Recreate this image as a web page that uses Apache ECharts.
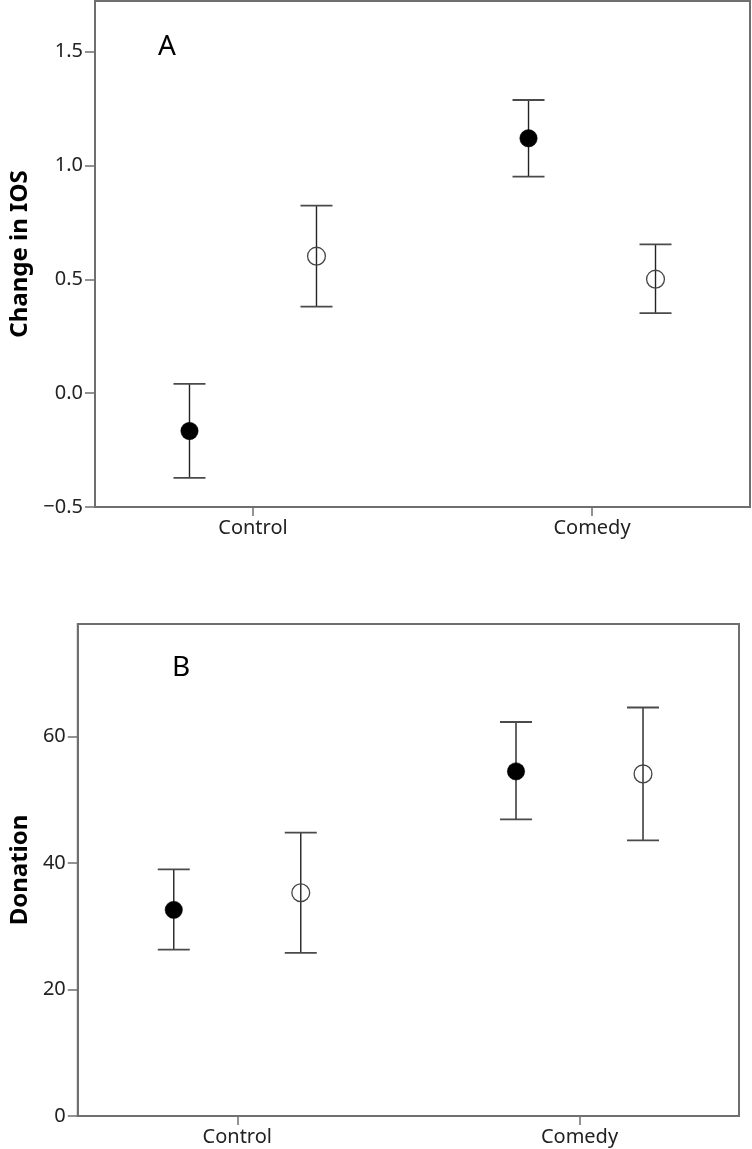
<!DOCTYPE html>
<html>
<head>
<meta charset="utf-8">
<script src="https://cdn.jsdelivr.net/npm/echarts@6/dist/echarts.min.js"></script>
<style>
html,body{margin:0;padding:0;background:#fff;}
#chart{width:752px;height:1149px;}
</style>
</head>
<body>
<div id="chart"></div>
<script>
// ---- data ----
const categories = ['Control', 'Comedy'];

// Panel A: Change in IOS
const iosFilledMean = [-0.166, 1.120];
const iosFilledLow  = [-0.372, 0.951];
const iosFilledHigh = [0.041, 1.288];
const iosOpenMean   = [0.602, 0.501];
const iosOpenLow    = [0.380, 0.352];
const iosOpenHigh   = [0.824, 0.654];
const iosTicks      = [-0.5, 0.0, 0.5, 1.0, 1.5];

// Panel B: Donation
const donFilledMean = [32.6, 54.5];
const donFilledLow  = [26.3, 46.9];
const donFilledHigh = [39.0, 62.3];
const donOpenMean   = [35.3, 54.1];
const donOpenLow    = [25.8, 43.6];
const donOpenHigh   = [44.8, 64.6];
const donTicks      = [0, 20, 40, 60];

// ---- chart ----
const FONT = '"Noto Sans", "DejaVu Sans", sans-serif';
const FRAME = '#6f6f6f';
const chart = echarts.init(document.getElementById('chart'), null, {renderer: 'canvas'});

function pack(mean, lo, hi) {
  return mean.map((m, i) => [i, m, lo[i], hi[i]]);
}

function errSeries(gridIdx, data, filled, offsetPx) {
  return {
    type: 'custom',
    xAxisIndex: gridIdx,
    yAxisIndex: gridIdx,
    data: data,
    encode: {x: 0, y: [1, 2, 3]},
    clip: false,
    renderItem: function (params, api) {
      const pm = api.coord([api.value(0), api.value(1)]);
      const cx = pm[0] + offsetPx;
      const yLo = api.coord([api.value(0), api.value(2)])[1];
      const yHi = api.coord([api.value(0), api.value(3)])[1];
      const cap = 16;
      const children = [
        {type: 'line', shape: {x1: cx, y1: yHi, x2: cx, y2: yLo},
         style: {stroke: '#222', lineWidth: 1.4}},
        {type: 'line', shape: {x1: cx - cap, y1: yHi, x2: cx + cap, y2: yHi},
         style: {stroke: '#4a4a4a', lineWidth: 1.8}},
        {type: 'line', shape: {x1: cx - cap, y1: yLo, x2: cx + cap, y2: yLo},
         style: {stroke: '#4a4a4a', lineWidth: 1.8}},
        filled
          ? {type: 'circle', shape: {cx: cx, cy: pm[1], r: 8.7},
             style: {fill: '#000', stroke: '#000', lineWidth: 0.5}}
          : {type: 'circle', shape: {cx: cx, cy: pm[1], r: 8.9},
             style: {fill: 'none', stroke: '#444', lineWidth: 1.3}}
      ];
      return {type: 'group', children: children};
    }
  };
}

function xAxis(gridIdx) {
  return {
    type: 'value', gridIndex: gridIdx,
    min: -0.466, max: 1.466,
    splitLine: {show: false},
    axisLine: {show: true, onZero: false, lineStyle: {color: FRAME, width: 2}},
    axisTick: {show: true, length: 9, customValues: [0, 1], lineStyle: {color: FRAME, width: 1.5}},
    axisLabel: {show: true, customValues: [0, 1], margin: 11,
      formatter: v => categories[Math.round(v)] || '',
      fontFamily: FONT, fontSize: 20, color: '#222'}
  };
}

function yAxis(gridIdx, name, min, max, ticks, fmt, gap) {
  return {
    type: 'value', gridIndex: gridIdx,
    min: min, max: max,
    name: name, nameLocation: 'middle', nameGap: gap,
    nameTextStyle: {fontFamily: FONT, fontSize: 24, fontWeight: 'bold', color: '#000'},
    splitLine: {show: false},
    axisLine: {show: true, onZero: false, lineStyle: {color: FRAME, width: 2}},
    axisTick: {show: true, length: 10, customValues: ticks, lineStyle: {color: FRAME, width: 1.5}},
    axisLabel: {show: true, customValues: ticks, margin: 12, formatter: fmt,
      fontFamily: FONT, fontSize: 20, color: '#222'}
  };
}

const option = {
  backgroundColor: '#fff',
  animation: false,
  grid: [
    {left: 86, right: 2, top: 1, height: 506, show: true, borderColor: FRAME, borderWidth: 2, backgroundColor: '#fff'},
    {left: 77, right: 13, top: 624, height: 492, show: true, borderColor: FRAME, borderWidth: 2, backgroundColor: '#fff'}
  ],
  xAxis: [xAxis(0), xAxis(1)],
  yAxis: [
    yAxis(0, 'Change in IOS', -0.5, 1.723, iosTicks,
      v => (v < 0 ? '\u2212' : '') + Math.abs(v).toFixed(1), 63),
    yAxis(1, 'Donation', 0, 77.8, donTicks, v => String(v), 44.5)
  ],
  graphic: [
    {type: 'text', left: 158, top: 33, style: {text: 'A', fontFamily: FONT, fontSize: 28, fill: '#000'}},
    {type: 'text', left: 172, top: 654, style: {text: 'B', fontFamily: FONT, fontSize: 28, fill: '#000'}}
  ],
  series: [
    errSeries(0, pack(iosFilledMean, iosFilledLow, iosFilledHigh), true, -63.5),
    errSeries(0, pack(iosOpenMean, iosOpenLow, iosOpenHigh), false, 63.5),
    errSeries(1, pack(donFilledMean, donFilledLow, donFilledHigh), true, -63.5),
    errSeries(1, pack(donOpenMean, donOpenLow, donOpenHigh), false, 63.5)
  ]
};
chart.setOption(option);
</script>
</body>
</html>
